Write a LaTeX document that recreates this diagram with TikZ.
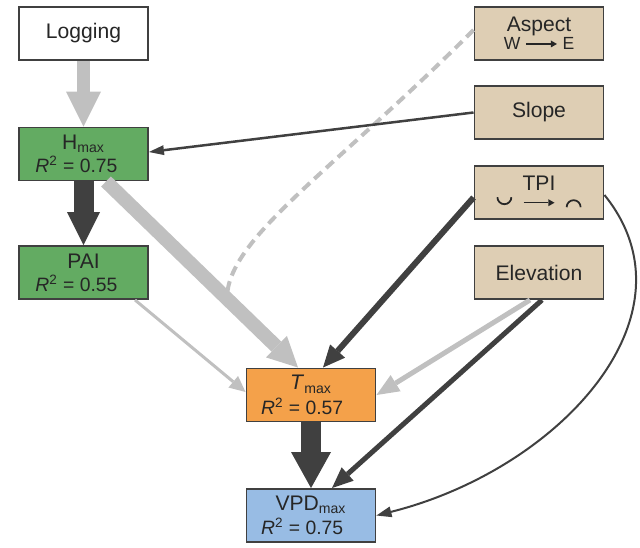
\documentclass[tikz,border=0pt]{standalone}
\usepackage{fontspec}
\setmainfont{Liberation Sans}
\usetikzlibrary{arrows.meta}
\definecolor{boxgreen}{RGB}{99,171,98}
\definecolor{boxtan}{RGB}{222,206,180}
\definecolor{boxorange}{RGB}{244,161,74}
\definecolor{boxblue}{RGB}{152,188,228}
\definecolor{lightpath}{RGB}{192,192,192}
\definecolor{darkpath}{RGB}{64,64,64}
\newcommand{\rsq}[1]{{\fontsize{11}{12}\selectfont\textit{R}\textsuperscript{2} = #1}}
\newcommand{\smallarrow}{\tikz[baseline=-0.6ex]\draw[line width=0.8pt, -{Triangle[length=3.5pt, width=4pt, line width=0pt]}] (0,0) -- (0.62,0);}
\newcommand{\cupsym}{\tikz[baseline=-0.2ex]\draw[line width=1pt] (0,0.2) arc[start angle=180, end angle=360, radius=0.14];}
\newcommand{\capsym}{\tikz[baseline=-0.2ex]\draw[line width=1pt] (0,0) arc[start angle=180, end angle=0, radius=0.14];}
\begin{document}
\begin{tikzpicture}[
        var/.style={draw=darkpath, line width=1.1pt, minimum width=2.58cm, minimum height=1.06cm,
            inner sep=0pt, align=center, text=black!85, font=\fontsize{12}{13}\selectfont},
        arrowhead/.style 2 args={-{Triangle[length=#1, width=#2, line width=0pt]}}
    ]
    \useasboundingbox (0,0) rectangle (12.8,10.94);
    % variables
    \node[var, fill=white] (logging) at (1.67,10.27) {Logging};
    \node[var, fill=boxgreen] (hmax) at (1.67,7.86) {H\textsubscript{max}\\[0pt]\rsq{0.75}\hspace*{8pt}};
    \node[var, fill=boxgreen] (pai) at (1.67,5.49) {PAI\\[0pt]\rsq{0.55}\hspace*{8pt}};
    \node[var, fill=boxtan] (aspect) at (10.78,10.27) {Aspect\\[-3pt]{\fontsize{10}{11}\selectfont W \smallarrow\ E}};
    \node[var, fill=boxtan] (slope) at (10.78,8.69) {Slope};
    \node[var, fill=boxtan] (tpi) at (10.78,7.09) {TPI\\[-2pt]\cupsym\enspace\smallarrow\enspace\capsym};
    \node[var, fill=boxtan] (elev) at (10.78,5.49) {Elevation};
    \node[var, fill=boxorange] (tmax) at (6.22,3.04) {\textit{T}\textsubscript{max}\\[1pt]\rsq{0.57}\hspace*{10pt}};
    \node[var, fill=boxblue] (vpd) at (6.22,0.63) {VPD\textsubscript{max}\\[1pt]\rsq{0.75}\hspace*{10pt}};
    % paths
    \path ([xshift=0.45cm]hmax.south) -- ([xshift=-0.26cm]tmax.north) coordinate[pos=0.63] (aspend);
    \draw[lightpath, line width=0.08cm, dash pattern=on 0.2cm off 0.12cm]
        ([yshift=0.07cm]aspect.west) .. controls +(-2.86,-2.86) and +(0,1.2) .. (aspend);
    \draw[lightpath, line width=0.26cm, arrowhead={0.7cm}{0.7cm}] (logging) -- (hmax);
    \draw[darkpath, line width=0.4cm, arrowhead={0.66cm}{0.66cm}] (hmax) -- (pai);
    \draw[lightpath, line width=0.28cm, arrowhead={0.6cm}{0.6cm}]
        ([xshift=0.45cm]hmax.south) -- ([xshift=-0.26cm]tmax.north);
    \draw[lightpath, line width=0.06cm, arrowhead={0.32cm}{0.3cm}]
        ([xshift=1.03cm]pai.south) -- ([yshift=0.06cm]tmax.west);
    \draw[darkpath, line width=0.05cm, arrowhead={0.3cm}{0.2cm}] (slope.west) -- ([yshift=0.04cm]hmax.east);
    \draw[darkpath, line width=0.12cm, arrowhead={0.44cm}{0.4cm}]
        ([yshift=-0.1cm]tpi.west) -- ([xshift=0.24cm]tmax.north);
    \draw[lightpath, line width=0.1cm, arrowhead={0.45cm}{0.38cm}]
        ([xshift=-0.18cm]elev.south) -- (tmax.east);
    \draw[darkpath, line width=0.1cm, arrowhead={0.42cm}{0.36cm}]
        ([xshift=0.06cm]elev.south) -- ([xshift=0.42cm]vpd.north);
    \draw[darkpath, line width=0.04cm, arrowhead={0.3cm}{0.22cm}]
        ([yshift=-0.05cm]tpi.east) .. controls +(1.94,-2.4) and +(3.66,0.92) .. (vpd.east);
    \draw[darkpath, line width=0.4cm, arrowhead={0.72cm}{0.8cm}] (tmax) -- (vpd);
\end{tikzpicture}
\end{document}
